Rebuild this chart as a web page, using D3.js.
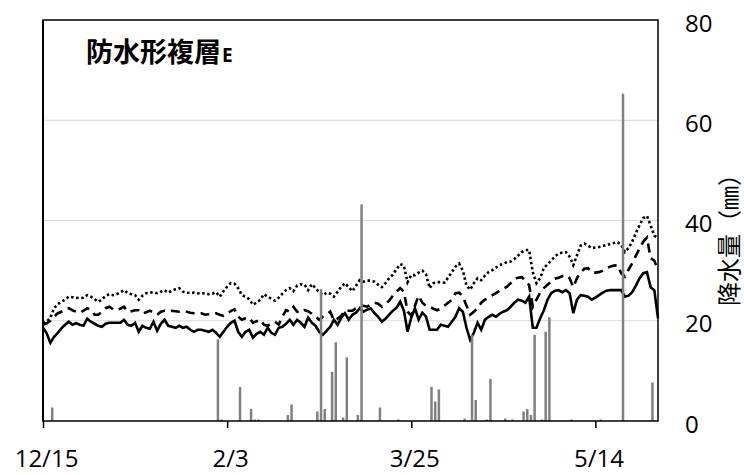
<!DOCTYPE html>
<html>
<head>
<meta charset="utf-8">
<script src="https://cdn.jsdelivr.net/npm/d3@7"></script>
<style>
  body { margin: 0; background: #fff; }
  svg text { font-family: "Open Sans", "Noto Sans", sans-serif; fill: #000; }
</style>
</head>
<body>
<div id="chart"></div>
<script>
// day index 0 = 12/15, one value per day
var tickDays = [0, 50, 100, 150];
var tickLabels = ["12/15", "2/3", "3/25", "5/14"];
var yTicks = [0, 20, 40, 60, 80];

// solid line
var lineSolid = [18.6,17.5,15.6,16.8,17.6,18.5,19.2,19.8,19.2,19.5,
  19.2,19.0,20.4,19.8,19.4,19.0,18.8,19.4,19.6,19.6,
  19.6,19.6,20.2,19.2,19.0,19.6,17.8,19.0,18.6,18.4,
  19.8,18.0,19.4,20.2,19.0,18.8,18.6,19.0,18.6,18.8,
  18.2,17.8,18.2,18.2,18.0,17.8,18.2,17.6,16.8,17.8,
  18.8,19.6,20.0,17.8,16.8,17.8,18.2,16.6,17.4,17.8,
  17.2,18.6,17.6,17.2,18.6,18.8,19.4,20.2,19.2,20.2,
  19.6,18.8,20.6,19.6,19.0,17.8,17.2,18.0,18.8,20.2,
  19.2,20.6,21.5,20.2,21.2,21.6,22.5,21.8,22.2,22.5,
  21.5,20.8,19.8,20.4,21.2,22.0,22.6,23.8,22.0,17.8,
  20.6,22.5,20.2,21.6,20.8,18.2,18.2,18.2,19.2,19.0,
  18.8,19.8,20.8,22.5,21.8,18.6,16.2,17.6,19.6,18.2,
  20.2,20.8,21.2,20.8,21.4,21.8,22.1,22.8,23.6,24.2,
  24.0,23.6,24.8,18.6,18.6,20.5,22.1,24.2,25.5,26.0,
  26.1,25.7,26.1,25.5,21.5,24.2,25.1,25.0,24.8,24.2,
  24.6,25.1,25.6,26.0,26.1,26.1,26.1,26.1,24.8,25.0,
  25.7,27.0,28.5,29.5,29.7,26.7,26.1,20.5];

// dashed line
var lineDashed = [19.2,19.5,20.0,20.8,21.5,21.8,22.3,22.5,22.1,21.8,
  21.6,22.0,22.5,22.2,21.2,21.2,21.8,22.5,22.8,22.3,
  22.1,22.4,22.8,21.8,21.9,22.1,22.1,21.4,21.7,22.0,
  21.6,21.2,21.8,22.0,21.8,22.0,21.9,21.8,21.8,21.8,
  21.6,21.5,21.5,21.5,21.2,21.3,21.4,21.5,21.2,21.0,
  21.5,21.9,22.3,20.8,20.2,20.5,20.6,19.6,19.9,20.2,
  19.2,19.0,19.4,19.8,19.2,20.8,22.1,21.8,22.8,21.8,
  21.6,22.1,21.9,21.4,20.8,20.2,20.8,21.2,21.8,20.0,
  20.4,21.0,22.1,22.0,22.0,22.5,23.0,23.0,22.8,23.2,
  23.6,23.4,22.8,23.3,24.0,25.0,25.8,26.5,25.8,21.8,
  21.0,23.0,25.0,23.6,23.0,22.8,22.4,22.1,22.4,23.0,
  23.6,24.2,25.5,25.6,24.8,23.0,21.2,21.8,22.5,23.6,
  24.2,24.6,25.1,25.5,26.0,26.4,26.8,27.5,28.3,28.6,
  28.7,28.0,27.1,22.8,24.2,25.6,26.5,27.2,27.8,28.4,
  28.6,28.9,29.1,28.5,26.7,28.5,29.6,30.4,30.5,29.6,
  29.6,29.7,30.0,30.5,30.8,31.0,31.1,29.5,28.8,30.2,
  31.5,33.0,34.4,35.8,36.6,32.5,32.0,30.0];

// dotted line
var lineDotted = [19.5,19.8,20.6,22.5,23.3,23.8,24.2,24.8,24.7,24.6,
  24.5,24.6,25.1,24.8,24.3,23.8,24.2,25.0,25.3,25.1,
  25.3,25.7,26.1,25.5,25.3,25.1,24.2,25.0,25.5,25.6,
  25.7,25.5,25.8,26.1,25.6,26.0,26.3,26.5,25.8,25.6,
  25.5,25.6,25.5,25.4,25.5,25.3,25.4,25.7,24.8,25.9,
  26.8,27.5,27.4,26.5,25.1,24.8,24.3,23.2,23.6,24.2,
  25.3,24.8,24.4,24.0,24.6,25.4,26.1,26.5,25.9,27.0,
  27.3,27.2,26.1,27.3,26.5,25.7,25.1,25.6,25.4,24.8,
  25.8,26.8,27.5,26.7,25.9,27.0,28.1,27.8,28.0,28.0,
  27.8,27.2,26.7,27.5,28.5,29.2,30.3,31.3,31.0,27.7,
  29.1,29.1,29.6,30.0,29.3,26.5,27.5,27.7,27.7,27.6,
  28.6,29.7,30.8,31.4,30.0,27.0,26.2,27.5,28.5,28.1,
  29.0,29.7,30.1,30.6,31.1,31.4,31.7,31.8,32.3,33.0,
  33.7,34.1,34.1,29.7,27.5,28.5,30.5,31.3,32.0,32.8,
  33.4,33.6,33.7,32.8,31.1,33.1,35.0,35.4,35.0,34.5,
  34.6,34.7,34.9,35.1,35.3,35.5,35.7,35.2,33.7,34.5,
  35.8,37.5,39.1,40.5,40.9,39.0,37.0,36.5];

// precipitation (mm), days with rain
var rainDays = [2,47,48,53,56,57,58,66,67,74,75,76,78,79,81,82,85,86,91,96,
  105,106,107,114,116,117,120,121,125,127,130,131,132,133,135,136,137,143,151,157,165];
var rainMm = [2.7,16.3,0.3,6.8,2.4,0.3,0.3,1.2,3.3,1.9,26.3,2.4,9.8,15.7,0.7,12.7,1.2,43.2,2.7,0.3,
  6.8,3.9,6.3,0.5,17.2,4.2,0.3,8.4,0.5,0.3,1.9,2.4,1.2,17.2,0.3,17.8,20.7,0.3,0.3,65.3,7.7];

var W = 744, H = 475;
var plot = {x0: 43, x1: 658, y0: 20, y1: 421};
var nDays = 167;

var svg = d3.select("#chart").append("svg")
    .attr("width", W)
    .attr("height", H);

var x = d3.scaleLinear().domain([0, nDays]).range([plot.x0, plot.x1]);
var y = d3.scaleLinear().domain([0, 80]).range([plot.y1, plot.y0]);

// gridlines
svg.append("g").selectAll("line")
    .data(yTicks.filter(function(d) { return d > 0 && d < 80; }))
    .enter().append("line")
    .attr("x1", plot.x0).attr("x2", plot.x1)
    .attr("y1", function(d) { return y(d); })
    .attr("y2", function(d) { return y(d); })
    .style("stroke", "#d9d9d9")
    .style("stroke-width", 1.2);

// lines
var line = d3.line()
    .x(function(d, i) { return x(i); })
    .y(function(d) { return y(d); });

var series = [
  {vals: lineSolid, dash: null},
  {vals: lineDashed, dash: "9,6"},
  {vals: lineDotted, dash: "2.5,2.6"}
];

svg.append("g").selectAll("path")
    .data(series)
    .enter().append("path")
    .attr("d", function(d) { return line(d.vals); })
    .style("fill", "none")
    .style("stroke", "#000")
    .style("stroke-width", 2.6)
    .style("stroke-dasharray", function(d) { return d.dash; });

// rain bars (drawn over the lines)
var barW = 2.5;
svg.append("g").selectAll("rect")
    .data(rainDays)
    .enter().append("rect")
    .attr("x", function(d) { return x(d + 0.5) - barW / 2; })
    .attr("y", function(d, i) { return y(rainMm[i]); })
    .attr("width", barW)
    .attr("height", function(d, i) { return plot.y1 - y(rainMm[i]); })
    .style("fill", "#808080");

// frame
svg.append("rect")
    .attr("x", plot.x0).attr("y", plot.y0)
    .attr("width", plot.x1 - plot.x0).attr("height", plot.y1 - plot.y0)
    .style("fill", "none")
    .style("stroke", "#000")
    .style("stroke-width", 1.5);
svg.append("line")
    .attr("x1", plot.x0).attr("x2", plot.x0)
    .attr("y1", plot.y0).attr("y2", plot.y1)
    .style("stroke", "#000").style("stroke-width", 2);

// bottom axis
var xAxis = svg.append("g")
    .attr("transform", "translate(0," + plot.y1 + ")")
    .call(d3.axisBottom(x)
        .tickValues(tickDays)
        .tickFormat(function(d, i) { return tickLabels[i]; })
        .tickSize(7));
xAxis.select(".domain").remove();
xAxis.selectAll(".tick line").style("stroke", "#000").style("stroke-width", 1.5);
xAxis.selectAll("text")
    .attr("y", 46).attr("dy", 0).attr("dx", 3)
    .style("font-size", "24px")
    .style("fill", "#000");

// right axis
var yAxis = svg.append("g")
    .attr("transform", "translate(" + plot.x1 + ",0)")
    .call(d3.axisRight(y).tickValues(yTicks).tickSize(0));
yAxis.select(".domain").remove();
yAxis.selectAll("text")
    .attr("x", 27).attr("dy", 11)
    .attr("text-anchor", "start")
    .style("font-size", "24px")
    .style("fill", "#000");

// right axis title
svg.append("text")
    .attr("transform", "translate(738,234) rotate(-90)")
    .attr("text-anchor", "middle")
    .style("font-family", "'Noto Sans CJK JP', sans-serif")
    .style("font-size", "24px")
    .text("降水量（㎜）");

// chart label
var title = svg.append("text")
    .attr("x", 86)
    .attr("y", 62)
    .style("font-family", "'Noto Sans CJK JP', sans-serif")
    .style("font-weight", "bold")
    .style("font-size", "27px")
    .text("防水形複層");
title.append("tspan")
    .attr("dx", 1)
    .style("font-family", "'Open Sans', sans-serif")
    .style("font-size", "19px")
    .text("E");
</script>
</body>
</html>
